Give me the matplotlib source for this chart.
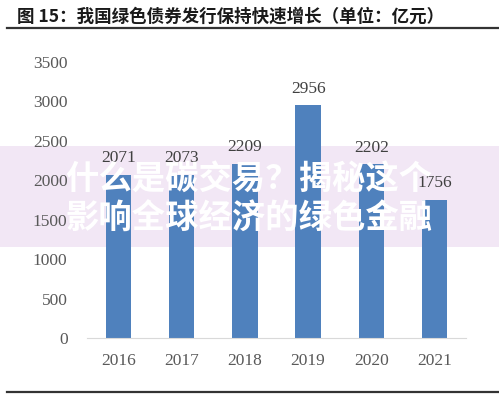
import matplotlib.pyplot as plt
from matplotlib.patches import Rectangle
from matplotlib.lines import Line2D

years = ['2016', '2017', '2018', '2019', '2020', '2021']
issuance = [2071, 2073, 2209, 2956, 2202, 1756]
yticks = [0, 500, 1000, 1500, 2000, 2500, 3000, 3500]

title = '图 15：我国绿色债券发行保持快速增长（单位：亿元）'
overlay = ['什么是碳交易？揭秘这个', '影响全球经济的绿色金融']

cjk = ['Noto Sans CJK SC', 'DejaVu Sans']
serif = ['Liberation Serif', 'DejaVu Serif']

fig = plt.figure(figsize=(4.99, 3.96), dpi=100)
fig.patch.set_facecolor('white')

# pink band, kept behind the chart
fig.patches.append(Rectangle((0, 1 - 247 / 396), 1, 101 / 396, transform=fig.transFigure,
                             facecolor='#F2E7F5', edgecolor='none', zorder=-5))

ax = fig.add_axes([87 / 499, 1 - 338 / 396, 379 / 499, 276 / 396])
ax.set_facecolor('none')
x = range(len(years))
ax.bar(x, issuance, width=0.4, color='#4F81BD', zorder=2)
for xi, v in zip(x, issuance):
    ax.annotate(str(v), (xi, v), xytext=(0, 6), textcoords='offset points',
                ha='center', va='bottom', fontsize=12.5, family=serif, color='#404040')

ax.set_xlim(-0.5, len(years) - 0.5)
ax.set_ylim(0, 3500)
ax.set_yticks(yticks)
ax.set_xticks(list(x))
ax.set_xticklabels(years)
for s in ['top', 'right', 'left']:
    ax.spines[s].set_visible(False)
ax.spines['bottom'].set_color('#D9D9D9')
ax.tick_params(length=0, labelsize=12.5, colors='#595959')
ax.tick_params(axis='x', pad=11)
ax.tick_params(axis='y', pad=14)
for lab in ax.get_xticklabels() + ax.get_yticklabels():
    lab.set_family(serif)

fig.text(17 / 499, 1 - 17 / 396, title, fontsize=12.6, fontweight='bold', family=cjk,
         ha='left', va='center', color='#1a1a1a')
fig.add_artist(Line2D([7 / 499, 1], [1 - 28 / 396] * 2, transform=fig.transFigure,
                      color='#333333', lw=1.6))
fig.add_artist(Line2D([7 / 499, 1], [1 - 392 / 396] * 2, transform=fig.transFigure,
                      color='#333333', lw=1.6))

fig.text(249 / 499, 1 - 180 / 396, overlay[0], fontsize=24, fontweight='heavy', family=cjk,
         ha='center', va='center', color='white', zorder=10)
fig.text(249 / 499, 1 - 219 / 396, overlay[1], fontsize=24, fontweight='heavy', family=cjk,
         ha='center', va='center', color='white', zorder=10)

fig.savefig('out.png', dpi=100, facecolor='white')
